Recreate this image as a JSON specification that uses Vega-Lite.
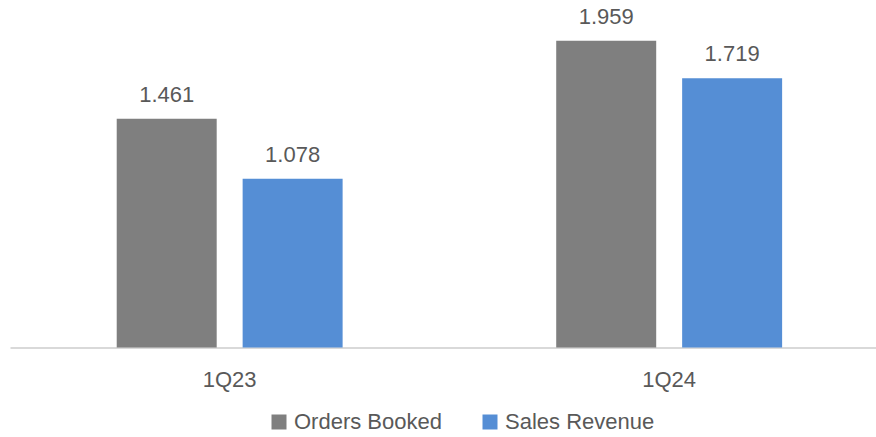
{
  "$schema": "https://vega.github.io/schema/vega-lite/v6.json",
  "autosize": "none",
  "width": 866,
  "height": 344.5,
  "padding": {"left": 10, "top": 3, "right": 0, "bottom": 89.5},
  "background": "white",
  "config": {"view": {"stroke": null}, "font": "Liberation Sans"},
  "data": {
    "values": [
      {"quarter": "1Q23", "series": "Orders Booked", "value": 1.461},
      {"quarter": "1Q23", "series": "Sales Revenue", "value": 1.078},
      {"quarter": "1Q24", "series": "Orders Booked", "value": 1.959},
      {"quarter": "1Q24", "series": "Sales Revenue", "value": 1.719}
    ]
  },
  "encoding": {
    "x": {
      "field": "quarter", "type": "nominal", "title": null,
      "scale": {"paddingInner": 0.486, "paddingOuter": 0.2282, "align": 0.532},
      "axis": {
        "domainColor": "#d9d9d9", "domainWidth": 2, "ticks": false, "tickSize": 0,
        "labelAngle": 0, "labelFontSize": 22, "labelColor": "#595959",
        "labelPadding": 22, "labelFont": "Liberation Sans"
      }
    },
    "xOffset": {
      "field": "series", "type": "nominal",
      "scale": {"paddingInner": 0.206, "paddingOuter": 0}
    },
    "y": {
      "field": "value", "type": "quantitative",
      "scale": {"domain": [0, 2.2], "nice": false, "zero": true},
      "axis": null
    }
  },
  "layer": [
    {
      "mark": {"type": "bar"},
      "encoding": {
        "color": {
          "field": "series", "type": "nominal",
          "scale": {"domain": ["Orders Booked", "Sales Revenue"], "range": ["#7f7f7f", "#558ed5"]},
          "legend": {
            "title": null, "orient": "none", "direction": "horizontal",
            "legendX": 258, "legendY": 408,
            "symbolType": "square", "symbolSize": 225, "symbolStrokeWidth": 0,
            "labelFontSize": 22, "labelColor": "#595959", "labelFont": "Liberation Sans",
            "labelOffset": 4, "columnPadding": 37, "symbolOpacity": 1
          }
        }
      }
    },
    {
      "mark": {"type": "text", "baseline": "alphabetic", "dy": -17, "fontSize": 22, "color": "#595959", "font": "Liberation Sans"},
      "encoding": {
        "text": {"field": "value", "type": "quantitative", "format": ".3f"}
      }
    }
  ]
}
